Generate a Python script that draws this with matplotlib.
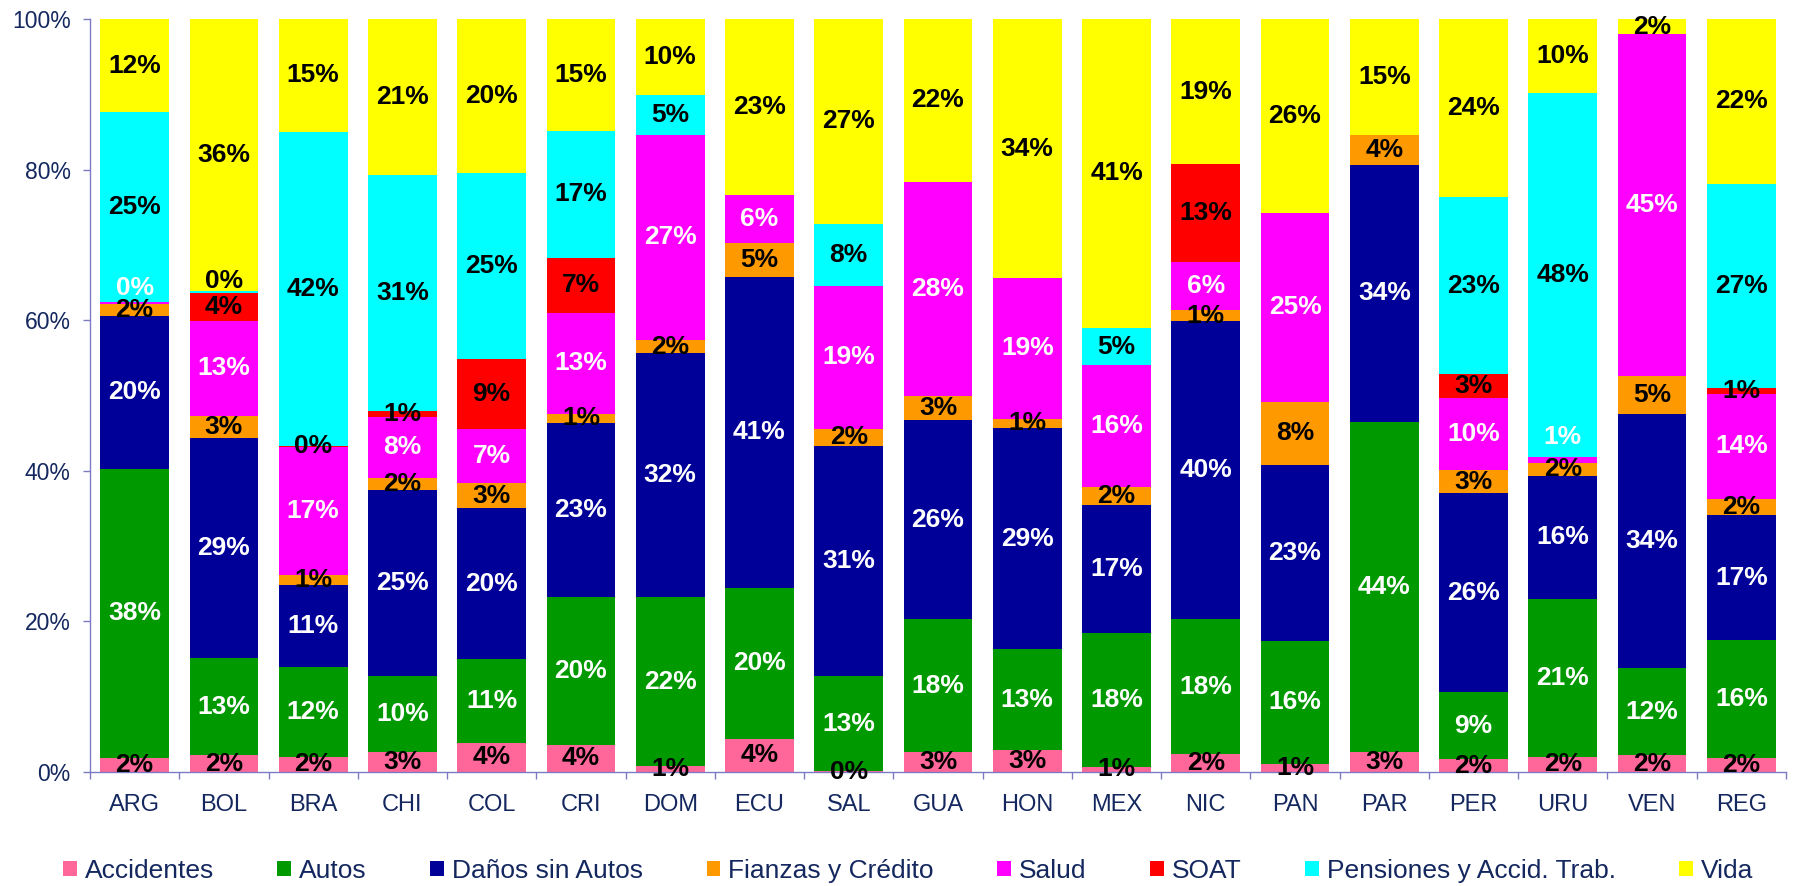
import numpy as np
import matplotlib
matplotlib.use("Agg")
import matplotlib.pyplot as plt
from matplotlib.patches import Patch
from matplotlib.ticker import FixedLocator, PercentFormatter

plt.rcParams["font.family"] = ["Liberation Sans", "DejaVu Sans"]

# ---------------- data ----------------
categories = ["ARG", "BOL", "BRA", "CHI", "COL", "CRI", "DOM", "ECU", "SAL", "GUA",
              "HON", "MEX", "NIC", "PAN", "PAR", "PER", "URU", "VEN", "REG"]

series_names = ["Accidentes", "Autos", "Daños sin Autos", "Fianzas y Crédito",
                "Salud", "SOAT", "Pensiones y Accid. Trab.", "Vida"]

nan = np.nan
accidentes = [1.9, 2.2, 2.0, 2.6, 3.9, 3.6, 0.8, 4.4, 0.1, 2.6,
              2.9, 0.7, 2.4, 1.1, 2.6, 1.7, 2.0, 2.2, 1.9]
autos = [38.4, 12.9, 11.9, 10.1, 11.1, 19.7, 22.4, 20.1, 12.6, 17.7,
         13.4, 17.8, 17.9, 16.3, 43.9, 8.9, 21.0, 11.6, 15.6]
danos = [20.3, 29.3, 10.9, 24.7, 20.0, 23.0, 32.4, 41.2, 30.6, 26.4,
         29.4, 17.0, 39.6, 23.4, 34.1, 26.4, 16.3, 33.8, 16.6]
fianzas = [1.6, 2.9, 1.4, 1.7, 3.4, 1.3, 1.8, 4.6, 2.3, 3.3,
           1.2, 2.3, 1.4, 8.4, 4.0, 3.1, 1.8, 5.0, 2.2]
salud = [0.2, 12.6, 17.0, 8.1, 7.2, 13.4, 27.2, 6.3, 18.9, 28.4,
         18.7, 16.2, 6.4, 25.1, nan, 9.6, 0.7, 45.4, 13.9]
soat = [nan, 3.7, 0.1, 0.7, 9.2, 7.3, nan, nan, nan, nan,
        nan, nan, 13.0, nan, nan, 3.2, nan, nan, 0.8]
pensiones = [25.2, 0.3, 41.7, 31.4, 24.8, 16.8, 5.3, nan, 8.3, nan,
             nan, 5.0, nan, nan, nan, 23.4, 48.4, nan, 27.1]
vida = [12.4, 36.1, 15.0, 20.7, 20.4, 14.9, 10.1, 23.4, 27.2, 21.6,
        34.4, 41.0, 19.3, 25.7, 15.4, 23.7, 9.8, 2.0, 21.9]

series_values = [accidentes, autos, danos, fianzas, salud, soat, pensiones, vida]

# ---------------- style ----------------
colors = ["#FF6699", "#009900", "#000099", "#FF9900",
          "#FF00FF", "#FF0000", "#00FFFF", "#FFFF00"]
label_colors = ["black", "white", "white", "black",
                "white", "black", "black", "black"]
# small manual nudges (in % units) for labels that were moved in the original
label_nudge = {("ARG", "Salud"): 2.0, ("BOL", "Pensiones y Accid. Trab."): 1.4,
               ("URU", "Salud"): 3.0}

axis_color = "#7B7BC4"
text_color = "#14285F"

fig = plt.figure(figsize=(18.02, 8.86), dpi=100)
ax = fig.add_axes([90 / 1802, 1 - 772 / 886, (1786 - 90) / 1802, (772 - 19) / 886])

x = np.arange(len(categories))
data = np.array(series_values, dtype=float)
filled = np.nan_to_num(data, nan=0.0)
totals = filled.sum(axis=0)
pct = filled / totals * 100.0

bottom = np.zeros(len(categories))
bar_w = 0.77
for i, name in enumerate(series_names):
    ax.bar(x, pct[i], bottom=bottom, width=bar_w, color=colors[i],
           edgecolor="none", linewidth=0, zorder=2)
    for j, cat in enumerate(categories):
        if np.isnan(data[i, j]):
            continue
        yc = bottom[j] + pct[i, j] / 2 + label_nudge.get((cat, name), 0.0)
        ax.text(x[j], yc, f"{int(round(data[i, j]))}%", ha="center", va="center",
                fontsize=19, fontweight="bold", color=label_colors[i], zorder=3)
    bottom += pct[i]

ax.set_xlim(-0.5, len(categories) - 0.5)
ax.set_ylim(0, 100)

ax.spines["top"].set_visible(False)
ax.spines["right"].set_visible(False)
for s in ("left", "bottom"):
    ax.spines[s].set_color(axis_color)
    ax.spines[s].set_linewidth(1.0)

ax.yaxis.set_major_locator(FixedLocator([0, 20, 40, 60, 80, 100]))
ax.yaxis.set_major_formatter(PercentFormatter(decimals=0))
ax.tick_params(axis="y", direction="out", length=5, width=1.0, color=axis_color,
               labelsize=16.5, labelcolor=text_color, pad=9)

ax.set_xticks(x)
ax.set_xticklabels(categories)
ax.set_xticks(np.arange(-0.5, len(categories), 1.0), minor=True)
ax.tick_params(axis="x", which="major", length=0, labelsize=17,
               labelcolor=text_color, pad=16)
ax.tick_params(axis="x", which="minor", direction="out", length=5, width=1.0,
               color=axis_color)

handles = [Patch(facecolor=c, edgecolor="none", label=n)
           for c, n in zip(colors, series_names)]
leg = fig.legend(handles=handles, loc="center", bbox_to_anchor=(0.504, 1 - 871 / 886),
                 ncol=8, frameon=False, fontsize=19, handlelength=0.53,
                 handleheight=0.53, handletextpad=0.3, columnspacing=2.4,
                 borderaxespad=0, borderpad=0)
for t in leg.get_texts():
    t.set_color(text_color)

fig.savefig("out.png", dpi=100)
